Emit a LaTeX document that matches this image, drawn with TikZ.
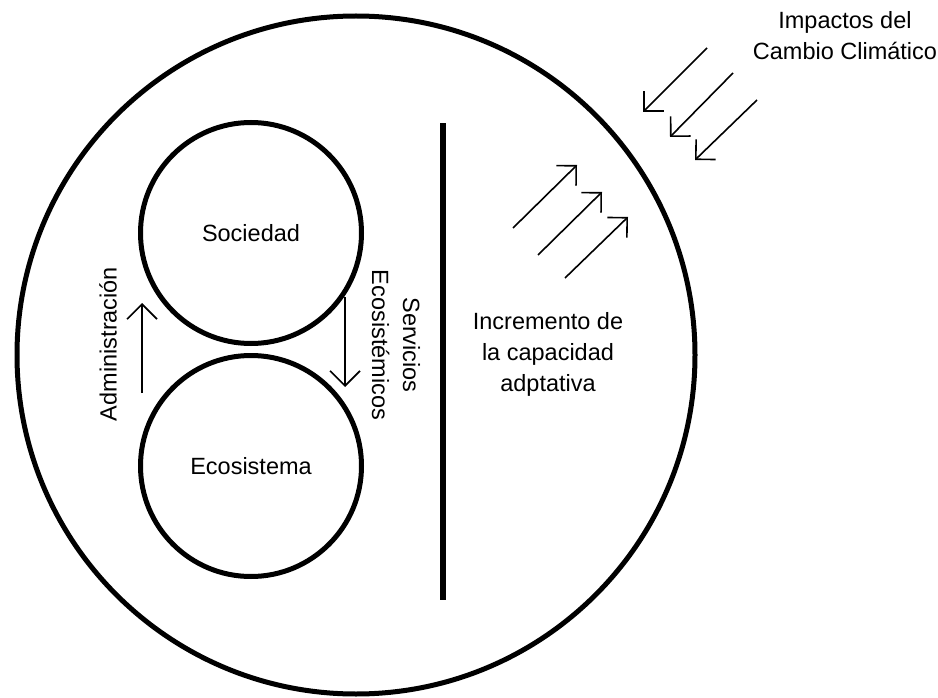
\documentclass[tikz,border=0pt]{standalone}
\usepackage{fontspec}
\setmainfont{Liberation Sans}
\usetikzlibrary{arrows.meta}
\begin{document}
\begin{tikzpicture}[x=1pt,y=-1pt,
  ring/.style={draw, circle, line width=5pt, inner sep=0pt},
  lbl/.style={font=\fontsize{23.5}{31}\selectfont, align=center, inner sep=0pt},
  flow/.style={line width=1.6pt, -{Straight Barb[length=15pt, width=30pt]}},
  hit/.style={line width=1.6pt, -{Straight Barb[length=14pt, width=28pt]}}]
  \useasboundingbox (0,0) rectangle (938,698);

  % outer system boundary
  \node[ring, minimum size=678pt] (system) at (356,355) {};

  % society and ecosystem
  \node[ring, minimum size=221pt] (soc) at (251,233) {};
  \node[lbl] (soctxt) at (soc.center) {Sociedad};
  \node[ring, minimum size=221pt] (eco) at (251,466) {};
  \node[lbl] (ecotxt) at (eco.center) {Ecosistema};

  % management (up) and ecosystem services (down)
  \coordinate (admA) at (142,393);
  \coordinate (admB) at (142,303);
  \draw[flow] (admA) -- (admB);
  \node[lbl, rotate=90] (admtxt) at (108,344) {Administración};

  \coordinate (srvA) at (345,297);
  \coordinate (srvB) at (345,387);
  \draw[flow] (srvA) -- (srvB);
  \node[lbl, rotate=-90] (srvtxt) at (396,345) {Servicios\\Ecosistémicos};

  % dividing bar
  \node[fill=black, minimum width=6pt, minimum height=477pt, inner sep=0pt] (bar) at (443,361.5) {};

  % adaptive capacity
  \node[lbl] (adapt) at (548,354) {Incremento de\\la capacidad\\adptativa};
  \foreach \i/\tx/\ty/\hx/\hy in {1/513/228/577/165, 2/538/255/602/192, 3/565/278/628/217}{
    \coordinate (upA\i) at (\tx,\ty);
    \coordinate (upB\i) at (\hx,\hy);
    \draw[hit] (upA\i) -- (upB\i);
  }

  % climate change impacts
  \node[lbl] (impact) at (845,36) {Impactos del\\Cambio Climático};
  \foreach \i/\tx/\ty/\hx/\hy in {1/707/48/643/112, 2/733/73/670/137, 3/757/100/695/160}{
    \coordinate (dnA\i) at (\tx,\ty);
    \coordinate (dnB\i) at (\hx,\hy);
    \draw[hit] (dnA\i) -- (dnB\i);
  }
\end{tikzpicture}
\end{document}
